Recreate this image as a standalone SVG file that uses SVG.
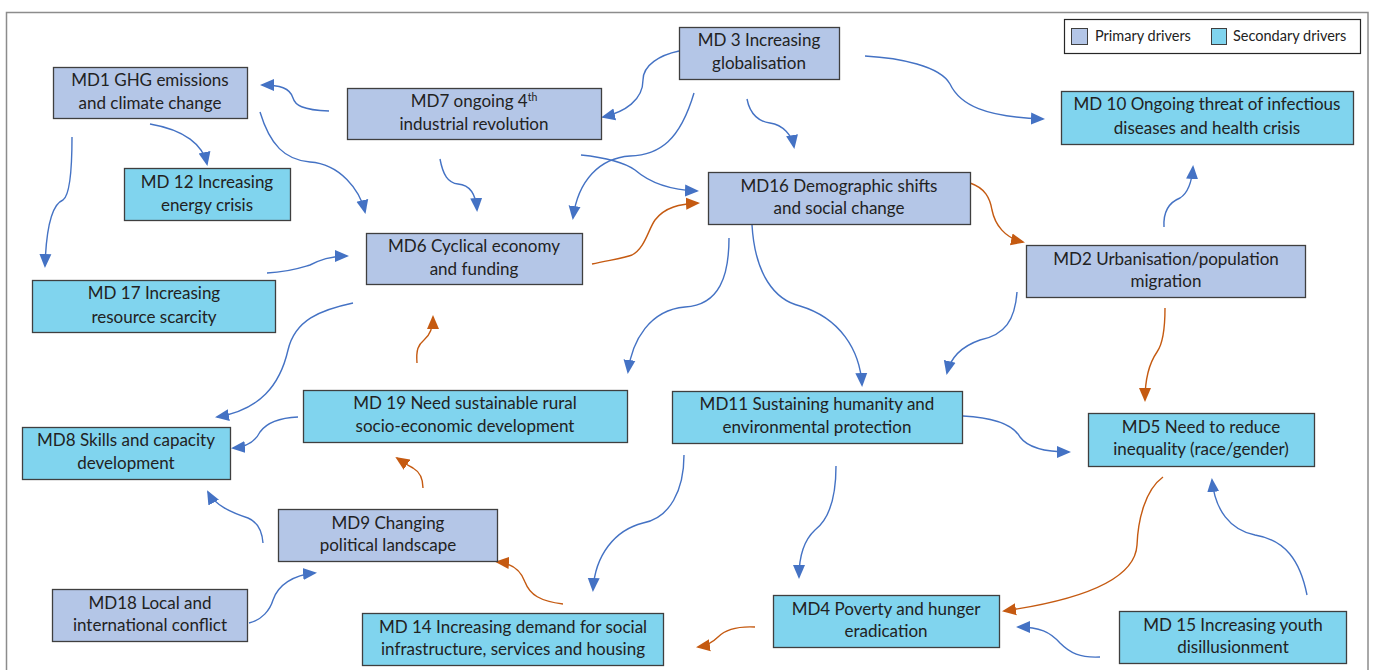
<svg xmlns="http://www.w3.org/2000/svg" width="1375" height="670" viewBox="0 0 1375 670">
  <style>
    .node rect { stroke: #3f3f3f; stroke-width: 1.3; }
    .primary rect, rect.primary { fill: #b4c6e7; }
    .secondary rect, rect.secondary { fill: #80d4ee; }
    text { font-family: Lato, "Liberation Sans", sans-serif; font-size: 17px; fill: #222222; text-anchor: middle; }
    .legend text { text-anchor: start; font-size: 14.5px; }
    .blue { fill: none; stroke: #4472c4; stroke-width: 1.4; marker-end: url(#ab); }
    .orange { fill: none; stroke: #c55a11; stroke-width: 1.4; marker-end: url(#ao); }
  </style>
  <defs>
    <marker id="ab" markerUnits="userSpaceOnUse" markerWidth="14" markerHeight="14" viewBox="0 0 14 12" refX="12" refY="6" orient="auto">
      <path d="M0,0 L14,6 L0,12 Z" fill="#4472c4"/>
    </marker>
    <marker id="ao" markerUnits="userSpaceOnUse" markerWidth="14" markerHeight="14" viewBox="0 0 14 12" refX="12" refY="6" orient="auto">
      <path d="M0,0 L14,6 L0,12 Z" fill="#c55a11"/>
    </marker>
  </defs>
  <rect width="1375" height="670" fill="#ffffff"/>
  <!-- outer frame -->
  <rect x="6.5" y="12.5" width="1361.5" height="680" fill="none" stroke="#8c8c8c" stroke-width="1.5"/>

  <!-- legend -->
  <g id="legend" class="legend">
    <rect x="1064.5" y="19.5" width="296" height="34" fill="#fff" stroke="#262626" stroke-width="1.2"/>
    <rect class="primary" x="1071.5" y="28.5" width="16" height="16" stroke="#3f3f3f"/>
    <text x="1095" y="41">Primary drivers</text>
    <rect class="secondary" x="1211.5" y="28.5" width="15" height="16" stroke="#3f3f3f"/>
    <text x="1233" y="41">Secondary drivers</text>
  </g>

  <!-- connectors -->
  <g id="connectors">
    <path class="blue" d="M329,111 C302,110 295,105 293,98 C290,88 280,85 262,85"/>
    <path class="blue" d="M150,124 C185,130 203,145 207,164"/>
    <path class="blue" d="M260,112 C270,145 285,160 310,162 C340,164 360,190 365,212"/>
    <path class="blue" d="M72,137 C72,170 70,195 63,200 C50,205 46,235 45,266"/>
    <path class="blue" d="M267,273 C290,272 300,268 310,265 C320,260 330,256 347,256"/>
    <path class="blue" d="M440,159 C443,175 448,183 458,184 C470,185 476,195 477,210"/>
    <path class="blue" d="M679,51 C660,55 643,65 643,80 C643,100 625,112 603,117"/>
    <path class="blue" d="M694,93 C680,140 660,155 630,156 C600,158 578,180 573,218"/>
    <path class="blue" d="M747,99 C750,115 760,122 770,123 C783,125 792,135 794,147"/>
    <path class="blue" d="M581,155 C610,158 625,163 635,170 C650,183 670,190 697,191"/>
    <path class="orange" d="M592,264 C610,260 625,258 632,255 C645,248 648,230 655,220 C665,207 680,204 698,203"/>
    <path class="blue" d="M865,56 C900,58 940,66 950,84 C960,105 985,117 1043,119"/>
    <path class="orange" d="M970,183 C985,188 990,198 992,210 C995,225 1005,238 1023,242"/>
    <path class="blue" d="M1164,227 C1163,210 1170,202 1180,198 C1188,193 1192,180 1193,167"/>
    <path class="blue" d="M729,238 C729,275 720,305 685,307 C650,310 632,340 628,372"/>
    <path class="blue" d="M752,225 C755,275 775,300 800,306 C840,318 860,350 862,385"/>
    <path class="blue" d="M1017,292 C1015,320 1005,335 980,340 C960,347 950,360 947,373"/>
    <path class="orange" d="M1165,308 C1165,330 1162,345 1157,352 C1148,365 1145,380 1145,400"/>
    <path class="blue" d="M963,416 C1000,418 1015,428 1020,437 C1028,448 1045,452 1069,452"/>
    <path class="orange" d="M1163,477 C1145,490 1138,520 1137,545 C1135,580 1080,600 1004,611"/>
    <path class="blue" d="M1307,595 C1300,560 1285,540 1255,535 C1230,530 1215,510 1212,480"/>
    <path class="blue" d="M1100,657 C1080,658 1070,653 1060,643 C1050,632 1040,627 1018,627"/>
    <path class="blue" d="M684,455 C684,490 670,518 643,523 C615,530 595,555 593,590"/>
    <path class="blue" d="M836,466 C836,500 828,520 815,530 C802,542 799,560 799,577"/>
    <path class="orange" d="M563,604 C540,601 530,595 525,582 C520,568 510,563 497,562"/>
    <path class="orange" d="M755,627 C735,626 725,630 718,637 C712,643 705,646 698,647"/>
    <path class="blue" d="M353,303 C320,310 295,320 288,350 C280,385 260,410 217,417"/>
    <path class="orange" d="M417,363 C416,350 418,345 424,340 C430,335 433,327 433,317"/>
    <path class="blue" d="M298,417 C275,418 265,425 260,432 C255,442 245,447 233,448"/>
    <path class="orange" d="M423,488 C423,478 420,472 413,468 C405,464 400,460 397,458"/>
    <path class="blue" d="M263,543 C262,530 258,522 248,518 C230,512 215,505 208,492"/>
    <path class="blue" d="M249,623 C262,620 270,610 273,600 C278,585 293,575 315,573"/>
  </g>

  <!-- nodes -->
  <g id="md1" class="node primary">
    <rect x="53.5" y="67.5" width="194" height="51"/>
    <text x="150" y="86">MD1 GHG emissions</text>
    <text x="150" y="109">and climate change</text>
  </g>
  <g id="md7" class="node primary">
    <rect x="347.5" y="88.5" width="254" height="51"/>
    <text x="474" y="107">MD7 ongoing 4<tspan font-size="10.5" dy="-6">th</tspan></text>
    <text x="474" y="130">industrial revolution</text>
  </g>
  <g id="md3" class="node primary">
    <rect x="679.5" y="27.5" width="160" height="52"/>
    <text x="759" y="46">MD 3 Increasing</text>
    <text x="759" y="69">globalisation</text>
  </g>
  <g id="md10" class="node secondary">
    <rect x="1061.5" y="91.5" width="292" height="53"/>
    <text x="1207" y="110">MD 10 Ongoing threat of infectious</text>
    <text x="1207" y="134">diseases and health crisis</text>
  </g>
  <g id="md12" class="node secondary">
    <rect x="124.5" y="168.5" width="166" height="52"/>
    <text x="207" y="188">MD 12 Increasing</text>
    <text x="207" y="211">energy crisis</text>
  </g>
  <g id="md16" class="node primary">
    <rect x="708.5" y="172.5" width="262" height="52"/>
    <text x="839" y="192">MD16 Demographic shifts</text>
    <text x="839" y="214">and social change</text>
  </g>
  <g id="md6" class="node primary">
    <rect x="366.5" y="233.5" width="216" height="51"/>
    <text x="474" y="252">MD6 Cyclical economy</text>
    <text x="474" y="275">and funding</text>
  </g>
  <g id="md17" class="node secondary">
    <rect x="32.5" y="280.5" width="243" height="52"/>
    <text x="154" y="299">MD 17 Increasing</text>
    <text x="154" y="323">resource scarcity</text>
  </g>
  <g id="md2" class="node primary">
    <rect x="1026.5" y="245.5" width="279" height="52"/>
    <text x="1166" y="265">MD2 Urbanisation/population</text>
    <text x="1166" y="287">migration</text>
  </g>
  <g id="md19" class="node secondary">
    <rect x="303.5" y="390.5" width="324" height="52"/>
    <text x="465" y="409">MD 19 Need sustainable rural</text>
    <text x="465" y="432">socio-economic development</text>
  </g>
  <g id="md11" class="node secondary">
    <rect x="672.5" y="391.5" width="290" height="52"/>
    <text x="817" y="410">MD11 Sustaining humanity and</text>
    <text x="817" y="433">environmental protection</text>
  </g>
  <g id="md5" class="node secondary">
    <rect x="1088.5" y="413.5" width="226" height="53"/>
    <text x="1201" y="433">MD5 Need to reduce</text>
    <text x="1201" y="455">inequality (race/gender)</text>
  </g>
  <g id="md8" class="node secondary">
    <rect x="22.5" y="427.5" width="208" height="52"/>
    <text x="126" y="446">MD8 Skills and capacity</text>
    <text x="126" y="469">development</text>
  </g>
  <g id="md9" class="node primary">
    <rect x="278.5" y="509.5" width="219" height="52"/>
    <text x="388" y="529">MD9 Changing</text>
    <text x="388" y="551">political landscape</text>
  </g>
  <g id="md18" class="node primary">
    <rect x="52.5" y="589.5" width="195" height="52"/>
    <text x="150" y="609">MD18 Local and</text>
    <text x="150" y="631">international conflict</text>
  </g>
  <g id="md4" class="node secondary">
    <rect x="773.5" y="595.5" width="226" height="52"/>
    <text x="886" y="615">MD4 Poverty and hunger</text>
    <text x="886" y="637">eradication</text>
  </g>
  <g id="md14" class="node secondary">
    <rect x="362.5" y="613.5" width="301" height="52"/>
    <text x="513" y="633">MD 14 Increasing demand for social</text>
    <text x="513" y="655">infrastructure, services and housing</text>
  </g>
  <g id="md15" class="node secondary">
    <rect x="1119.5" y="611.5" width="227" height="52"/>
    <text x="1233" y="631">MD 15 Increasing youth</text>
    <text x="1233" y="653">disillusionment</text>
  </g>
</svg>
